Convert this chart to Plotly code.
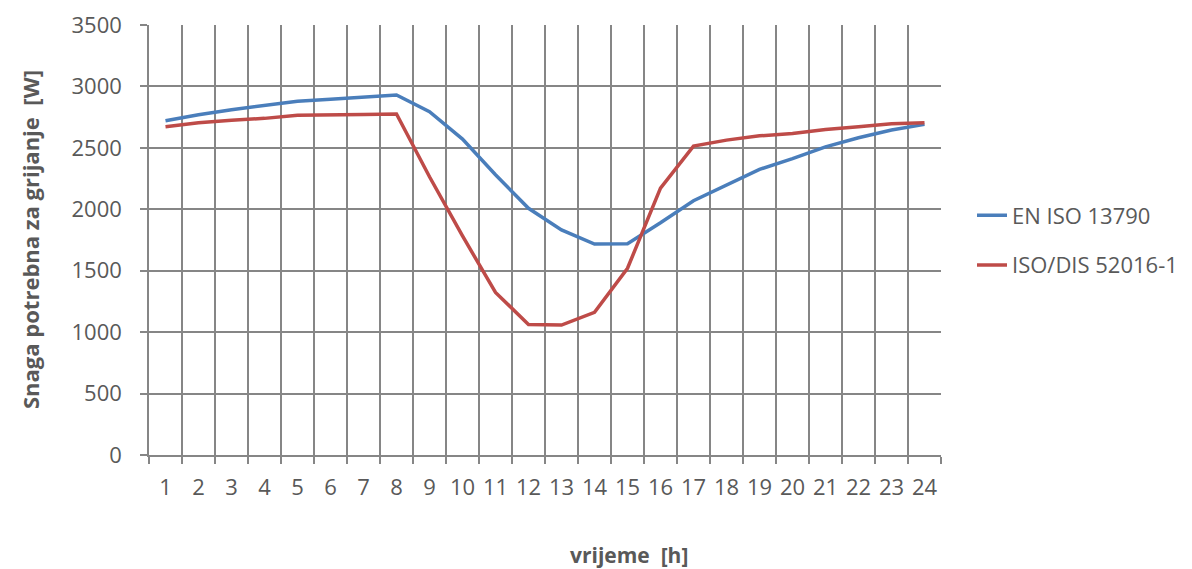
import plotly.graph_objects as go

hours = list(range(1, 25))
tick_labels = [str(h) for h in hours]
en_iso_13790 = [2720, 2770, 2810, 2845, 2880, 2895, 2915, 2930, 2795, 2571, 2281, 2008,
                1832, 1717, 1720, 1890, 2070, 2200, 2325, 2413, 2508, 2582, 2645, 2691]
iso_dis_52016 = [2672, 2705, 2725, 2740, 2765, 2765, 2772, 2776, 2265, 1783, 1323, 1063,
                 1058, 1161, 1520, 2172, 2514, 2563, 2598, 2617, 2650, 2672, 2697, 2705]

FONT = "Open Sans"
GRAY_TXT = "#595959"
GRID = "#868686"

fig = go.Figure()
fig.add_trace(go.Scatter(x=hours, y=en_iso_13790, mode="lines", name="EN ISO 13790",
                         line=dict(color="#4A7EBB", width=3.5), legendgroup="a"))
fig.add_trace(go.Scatter(x=hours, y=iso_dis_52016, mode="lines", name="ISO/DIS 52016-1",
                         line=dict(color="#BE4B48", width=3.5), legendgroup="b"))

# page has an 8px body margin; figure origin sits at (8, 8) on screen
OFF = 8
W, H = 1192 - OFF, 569 - OFF
L, R, T, B = 149 - OFF, 941 - OFF, 25 - OFF, 455 - OFF

def px_x(sx):
    return (sx - OFF - L) / (R - L)

def px_y(sy):
    return (B - (sy - OFF)) / (B - T)

fig.update_layout(
    width=W, height=H,
    margin=dict(l=L, r=W - R, t=T, b=H - B, pad=0, autoexpand=False),
    paper_bgcolor="white", plot_bgcolor="white",
    font=dict(family=FONT, size=22, color=GRAY_TXT),
    showlegend=True,
    legend=dict(x=px_x(972), xanchor="left", y=px_y(240.5), yanchor="middle",
                font=dict(family=FONT, size=22, color=GRAY_TXT),
                traceorder="grouped", tracegroupgap=18, bgcolor="rgba(0,0,0,0)"),
    xaxis=dict(range=[0.5, 24.5], tickmode="array", tickvals=hours, ticktext=tick_labels,
               ticks="", showgrid=False, zeroline=False,
               showline=True, linecolor=GRID, linewidth=1.5,
               ticklabelstandoff=12,
               tickfont=dict(family=FONT, size=22, color=GRAY_TXT),
               minor=dict(tickvals=[h + 0.5 for h in range(0, 25)], ticks="outside",
                          ticklen=7, tickcolor=GRID, tickwidth=1.5,
                          showgrid=True, gridcolor=GRID, gridwidth=1.5)),
    yaxis=dict(range=[0, 3500], tickmode="array", tickvals=list(range(0, 3501, 500)),
               ticks="outside", ticklen=7, tickcolor=GRID, tickwidth=1.5,
               showgrid=True, gridcolor=GRID, gridwidth=1.5, zeroline=False,
               showline=True, linecolor=GRID, linewidth=1.5,
               ticklabelstandoff=14,
               tickfont=dict(family=FONT, size=22, color=GRAY_TXT)),
)

fig.add_annotation(text="<b>Snaga potrebna za grijanje \u00a0[W]</b>", textangle=-90,
                   xref="paper", yref="paper", x=px_x(30), y=px_y(240),
                   xanchor="center", yanchor="middle", showarrow=False,
                   font=dict(family=FONT, size=22, color=GRAY_TXT))
fig.add_annotation(text="<b>vrijeme \u00a0[h]</b>",
                   xref="paper", yref="paper", x=px_x(629), y=px_y(555),
                   xanchor="center", yanchor="middle", showarrow=False,
                   font=dict(family=FONT, size=21, color=GRAY_TXT))

fig.write_html("out.html")
